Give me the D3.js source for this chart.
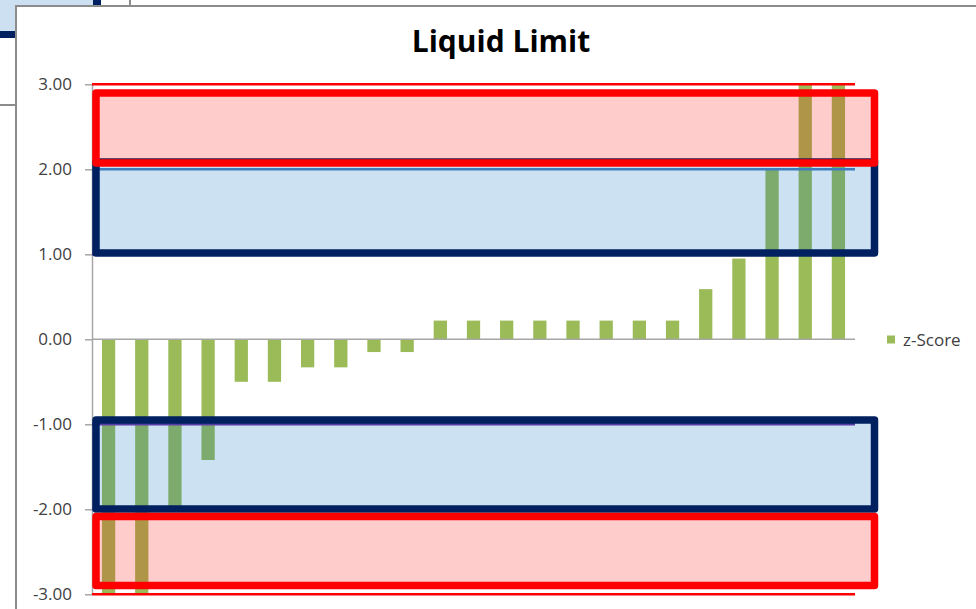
<!DOCTYPE html>
<html>
<head>
<meta charset="utf-8">
<script src="https://cdn.jsdelivr.net/npm/d3@7"></script>
<style>
  html, body { margin: 0; padding: 0; background: #ffffff; }
  svg { display: block; }
</style>
</head>
<body>
<svg id="chart" width="976" height="609"></svg>
<script>
// ---- data ----
const categories = ["1","2","3","4","5","6","7","8","9","10","11","12","13","14","15","16","17","18","19","20","21","22","23"];
const zScores = [-3.0, -3.0, -2.0, -1.42, -0.5, -0.5, -0.33, -0.33, -0.15, -0.15,
                 0.22, 0.22, 0.22, 0.22, 0.22, 0.22, 0.22, 0.22, 0.59, 0.95, 2.0, 3.0, 3.0];
const yTicks = [3, 2, 1, 0, -1, -2, -3];
const limitValues = [3, 2, 1, -1, -2, -3];
const limitNames = ["upper3", "upper2", "upper1", "lower1", "lower2", "lower3"];
// highlight zones (value ranges)
const zoneTop = [2.898, 2.086, -0.95, -2.085];
const zoneBottom = [2.074, 1.015, -1.996, -2.897];
const zoneKind = ["red", "blue", "blue", "red"];
const seriesName = "z-Score";
const titleText = "Liquid Limit";

// ---- layout ----
const svg = d3.select("#chart");
const plot = { left: 92, right: 855, top: 84.3, bottom: 594.3 };

// spreadsheet background bits
svg.append("rect").attr("x", 0).attr("y", 0).attr("width", 93).attr("height", 31).attr("fill", "#CDE0F2");
svg.append("rect").attr("x", 0).attr("y", 31).attr("width", 20).attr("height", 7).attr("fill", "#002060");
svg.append("rect").attr("x", 93).attr("y", 0).attr("width", 8).attr("height", 8).attr("fill", "#002060");
svg.append("line").attr("x1", 130).attr("x2", 130).attr("y1", 0).attr("y2", 8).attr("stroke", "#8C8C8C").attr("stroke-width", 2);
svg.append("line").attr("x1", 0).attr("x2", 16).attr("y1", 105).attr("y2", 105).attr("stroke", "#8C8C8C").attr("stroke-width", 2);

// chart frame
svg.append("rect").attr("x", 16).attr("y", 6).attr("width", 976).attr("height", 700)
  .attr("fill", "#ffffff").attr("stroke", "#8C8C8C").attr("stroke-width", 2);

// ---- scales ----
const x = d3.scaleBand().domain(categories).range([plot.left, plot.right])
  .paddingInner(0.6).paddingOuter(0.3);
const y = d3.scaleLinear().domain([-3, 3]).range([plot.bottom, plot.top]);

// title
svg.append("text").attr("x", 501).attr("y", 52).attr("text-anchor", "middle")
  .attr("font-family", "'Open Sans', sans-serif").attr("font-weight", 700)
  .attr("font-size", 30).attr("fill", "#000").text(titleText);

// y axis
const yAxis = d3.axisLeft(y).tickValues(yTicks).tickFormat(d => d.toFixed(2))
  .tickSize(7).tickSizeOuter(0);
const yg = svg.append("g").attr("transform", `translate(${plot.left},0)`).call(yAxis);
yg.select(".domain").attr("stroke", "#A6A6A6").attr("stroke-width", 1.5);
yg.selectAll(".tick line").attr("stroke", "#A6A6A6").attr("stroke-width", 1.5);
yg.selectAll(".tick text").attr("x", -20).attr("fill", "#404040")
  .attr("font-family", "'Open Sans', sans-serif").attr("font-size", 17);

// bars
svg.append("g").selectAll("rect").data(zScores).join("rect")
  .attr("x", (d, i) => x(categories[i]))
  .attr("width", x.bandwidth())
  .attr("y", d => y(Math.max(0, d)))
  .attr("height", d => Math.abs(y(d) - y(0)))
  .attr("fill", "#9BBB59");

// zero (category) axis
svg.append("line").attr("x1", plot.left).attr("x2", plot.right)
  .attr("y1", y(0)).attr("y2", y(0)).attr("stroke", "#A6A6A6").attr("stroke-width", 1.5);

// limit lines
const limitColor = { 3: "#FF0000", 2: "#4F81BD", 1: "#7030A0", "-1": "#7030A0", "-2": "#4F81BD", "-3": "#FF0000" };
svg.append("g").selectAll("line").data(limitValues).join("line")
  .attr("class", (d, i) => limitNames[i])
  .attr("x1", plot.left).attr("x2", plot.right)
  .attr("y1", d => y(d)).attr("y2", d => y(d))
  .attr("stroke", d => limitColor[d]).attr("stroke-width", 2.5);

// highlight boxes (drawn over chart, semi-transparent)
const zoneOrder = [1, 0, 2, 3];
const boxLeft = plot.left + 4, boxRight = 874.5;
svg.append("g").selectAll("rect").data(zoneOrder).join("rect")
  .attr("x", boxLeft).attr("width", boxRight - boxLeft)
  .attr("y", i => y(zoneTop[i]))
  .attr("height", i => y(zoneBottom[i]) - y(zoneTop[i]))
  .attr("fill", i => zoneKind[i] === "red" ? "rgba(255,0,0,0.2)" : "rgba(0,112,192,0.2)")
  .attr("stroke", i => zoneKind[i] === "red" ? "#FF0000" : "#002060")
  .attr("stroke-width", 7.5).attr("stroke-linejoin", "round");

// legend
svg.append("rect").attr("x", 887).attr("y", 335.5).attr("width", 8).attr("height", 8).attr("fill", "#9BBB59");
svg.append("text").attr("x", 903).attr("y", 345.5).attr("fill", "#404040")
  .attr("font-family", "'Open Sans', sans-serif").attr("font-size", 17).text(seriesName);
</script>
</body>
</html>
